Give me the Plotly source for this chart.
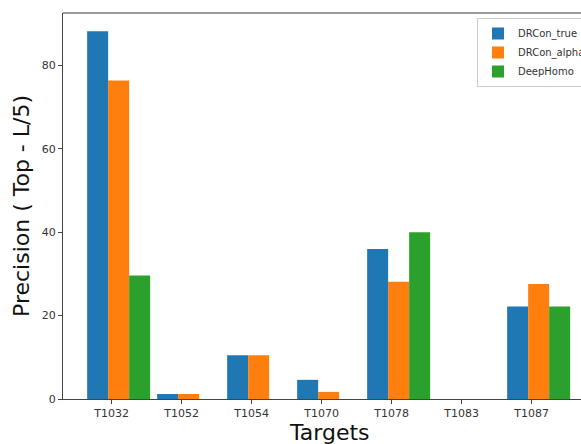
import plotly.graph_objects as go

targets = ["T1032", "T1052", "T1054", "T1070", "T1078", "T1083", "T1087"]
drcon_true = [88.2, 1.2, 10.5, 4.6, 36.0, 0, 22.2]
drcon_alpha = [76.4, 1.2, 10.5, 1.7, 28.1, 0, 27.6]
deephomo = [29.6, 0, 0, 0, 40.0, 0, 22.2]

series = [
    ("DRCon_true", drcon_true, "#1f77b4", -0.35),
    ("DRCon_alpha", drcon_alpha, "#ff7f0e", -0.05),
    ("DeepHomo", deephomo, "#2ca02c", 0.25),
]

xpos = list(range(len(targets)))
fig = go.Figure()
for name, vals, color, off in series:
    fig.add_trace(go.Bar(
        x=xpos, y=vals, name=name, width=0.3, offset=off,
        marker=dict(color=color, line=dict(width=0)),
    ))

W, H = 581, 444
ml, mr, mt, mb = 63, 0, 13, 45
PW, PH = W - ml - mr, H - mt - mb
font = "DejaVu Sans"
axis_col = "#444"

fig.update_layout(
    width=W, height=H,
    margin=dict(l=ml, r=mr, t=mt, b=mb, autoexpand=False),
    barmode="overlay",
    plot_bgcolor="white", paper_bgcolor="white",
    font=dict(family=font, size=11, color="#333"),
    showlegend=True,
    legend=dict(
        x=(477 - ml) / PW, y=1 - 5 / PH,
        xanchor="left", yanchor="top",
        bgcolor="white", bordercolor="#cccccc", borderwidth=1,
        font=dict(family=font, size=10, color="#333"),
        tracegroupgap=0,
    ),
    xaxis=dict(
        range=[-0.695, 6.705], tickvals=xpos, ticktext=targets,
        showline=True, linecolor=axis_col, linewidth=1.2,
        ticks="outside", ticklen=4, tickcolor=axis_col, showgrid=False, zeroline=False,
        tickfont=dict(family=font, size=11, color="#333"),
        automargin=False,
    ),
    yaxis=dict(
        range=[0, 92.6], tickvals=[0, 20, 40, 60, 80],
        showline=True, linecolor=axis_col, linewidth=1.2,
        ticks="outside", ticklen=4, tickcolor=axis_col, showgrid=False, zeroline=False,
        tickfont=dict(family=font, size=11, color="#333"),
        automargin=False,
    ),
    shapes=[
        dict(type="line", xref="paper", yref="paper", x0=0, x1=1, y0=1, y1=1,
             line=dict(color="#777", width=1.5)),
    ],
    annotations=[
        dict(text="Targets", xref="paper", yref="paper",
             x=(329 - ml) / PW, y=-(447 - (H - mb)) / PH,
             xanchor="center", yanchor="bottom", showarrow=False,
             font=dict(family=font, size=22, color="#111")),
        dict(text="Precision ( Top - L/5)", xref="paper", yref="paper",
             x=-(ml - 21) / PW, y=0.5, textangle=-90,
             xanchor="center", yanchor="middle", showarrow=False,
             font=dict(family=font, size=22, color="#111")),
    ],
)

fig.write_html("out.html", config={"displayModeBar": False},
               post_script="document.body.style.margin='0';document.body.style.overflow='hidden';")
